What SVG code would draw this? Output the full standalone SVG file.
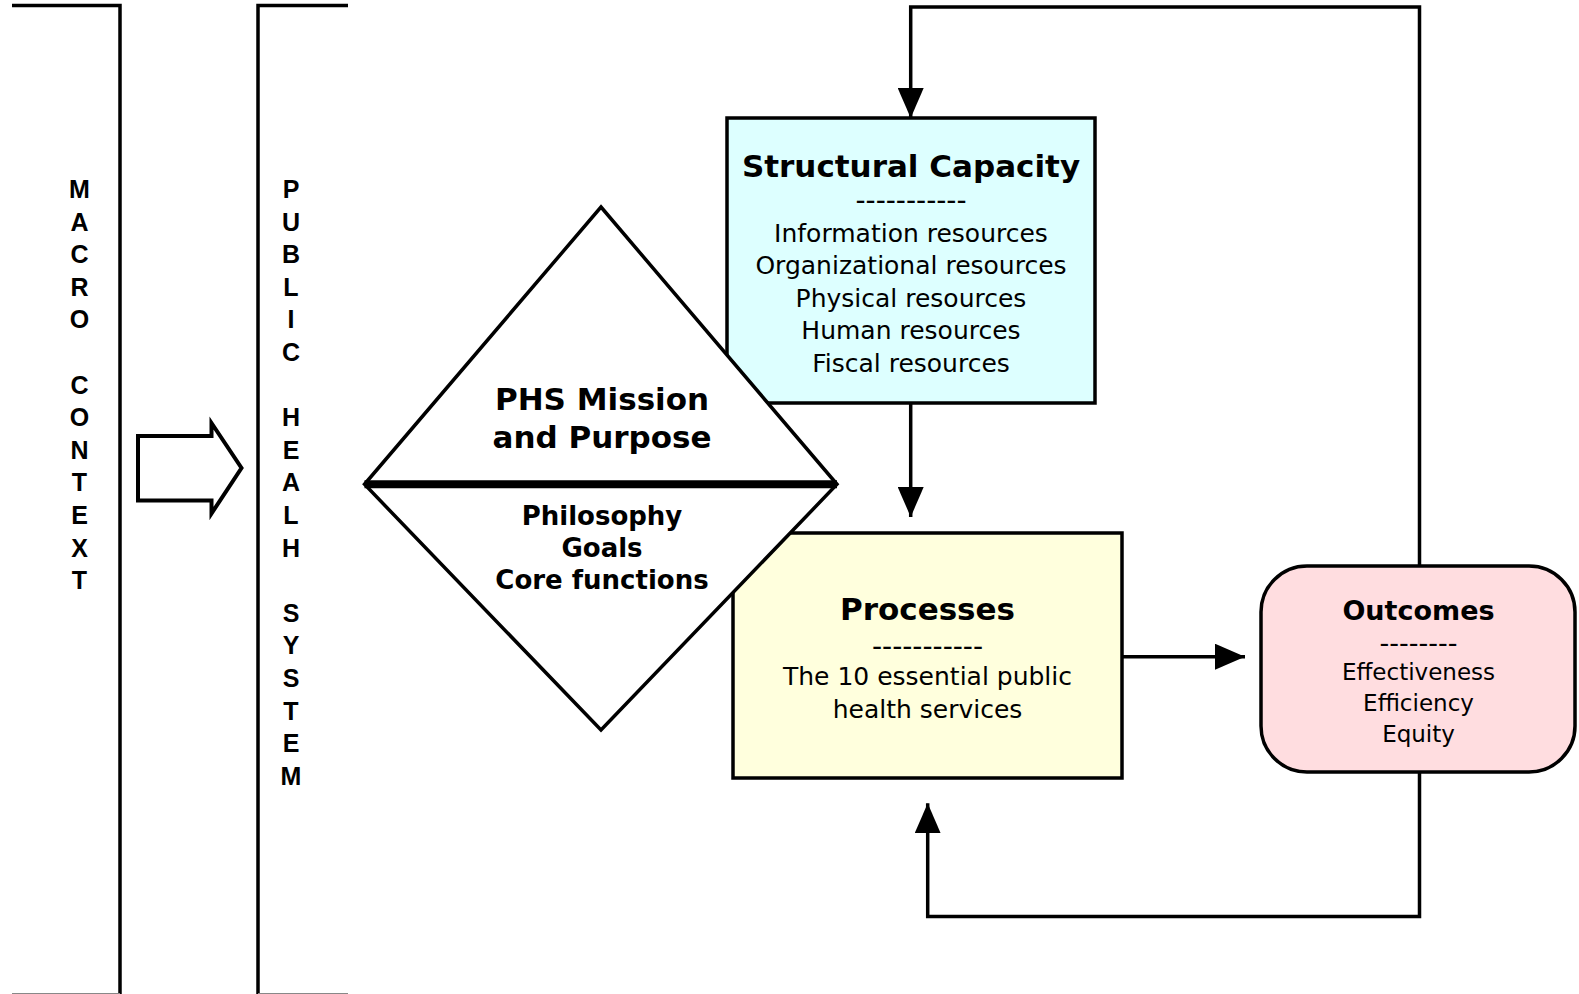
<svg xmlns="http://www.w3.org/2000/svg" width="1579" height="994" viewBox="0 0 1579 994">
<defs>
<style>
.ln{fill:none;stroke:#000;stroke-width:3.5}
.box{stroke:#000;stroke-width:3.5}
.vt{font-family:"Liberation Sans",Arial,sans-serif;font-weight:bold;font-size:25px;text-anchor:middle;fill:#000}
.tt{font-family:"DejaVu Sans",Verdana,sans-serif;font-weight:bold;text-anchor:middle;fill:#000}
.bt{font-family:"DejaVu Sans",Verdana,sans-serif;text-anchor:middle;fill:#000}
</style>
<marker id="ah" markerWidth="30" markerHeight="26" refX="30" refY="13" orient="auto" markerUnits="userSpaceOnUse">
<path d="M0,0 L30,13 L0,26 Z" fill="#000"/>
</marker>
</defs>
<rect width="1579" height="994" fill="#fff"/>

<g id="macro-context">
<path class="ln" d="M12,5.5 H120 V994"/>
<line x1="12" y1="993.5" x2="120" y2="993.5" stroke="#888" stroke-width="1"/>
<text class="vt" x="79.5" y="198">M</text>
<text class="vt" x="79.5" y="230.6">A</text>
<text class="vt" x="79.5" y="263.2">C</text>
<text class="vt" x="79.5" y="295.8">R</text>
<text class="vt" x="79.5" y="328.4">O</text>
<text class="vt" x="79.5" y="393.6">C</text>
<text class="vt" x="79.5" y="426.2">O</text>
<text class="vt" x="79.5" y="458.8">N</text>
<text class="vt" x="79.5" y="491.4">T</text>
<text class="vt" x="79.5" y="524">E</text>
<text class="vt" x="79.5" y="556.6">X</text>
<text class="vt" x="79.5" y="589.2">T</text>
</g>

<g id="public-health-system">
<path class="ln" d="M348,5.5 H258 V994"/>
<line x1="258" y1="993.5" x2="348" y2="993.5" stroke="#888" stroke-width="1"/>
<text class="vt" x="291" y="198">P</text>
<text class="vt" x="291" y="230.6">U</text>
<text class="vt" x="291" y="263.2">B</text>
<text class="vt" x="291" y="295.8">L</text>
<text class="vt" x="291" y="328.4">I</text>
<text class="vt" x="291" y="361">C</text>
<text class="vt" x="291" y="426.2">H</text>
<text class="vt" x="291" y="458.8">E</text>
<text class="vt" x="291" y="491.4">A</text>
<text class="vt" x="291" y="524">L</text>
<text class="vt" x="291" y="556.6">H</text>
<text class="vt" x="291" y="621.8">S</text>
<text class="vt" x="291" y="654.4">Y</text>
<text class="vt" x="291" y="687">S</text>
<text class="vt" x="291" y="719.6">T</text>
<text class="vt" x="291" y="752.2">E</text>
<text class="vt" x="291" y="784.8">M</text>
</g>

<g id="block-arrow">
<path d="M138,436 H211.5 V423 L241.5,468 L211.5,513.5 V500.5 H138 Z" fill="#fff" stroke="#000" stroke-width="4"/>
</g>

<g id="structural-capacity">
<rect class="box" x="727" y="118" width="368" height="285" fill="#DDFFFF"/>
<text class="tt" x="911" y="177" font-size="31">Structural Capacity</text>
<text class="bt" x="911" y="210" font-size="28">-----------</text>
<text class="bt" x="911" y="241.5" font-size="25">Information resources</text>
<text class="bt" x="911" y="274.1" font-size="25">Organizational resources</text>
<text class="bt" x="911" y="306.7" font-size="25">Physical resources</text>
<text class="bt" x="911" y="339.3" font-size="25">Human resources</text>
<text class="bt" x="911" y="371.9" font-size="25">Fiscal resources</text>
</g>

<g id="processes">
<rect class="box" x="733" y="533" width="389" height="245" fill="#FFFFDD"/>
<text class="tt" x="927.5" y="620" font-size="31">Processes</text>
<text class="bt" x="927.5" y="656" font-size="28">-----------</text>
<text class="bt" x="927.5" y="685" font-size="25">The 10 essential public</text>
<text class="bt" x="927.5" y="718" font-size="25">health services</text>
</g>

<g id="phs-mission">
<path d="M601,207 L837,484.3 L601,730 L364.5,484.3 Z" fill="#fff" stroke="#000" stroke-width="3.5" stroke-linejoin="miter"/>
<line x1="364.5" y1="484.3" x2="837" y2="484.3" stroke="#000" stroke-width="8"/>
<text class="tt" x="602" y="410" font-size="31">PHS Mission</text>
<text class="tt" x="602" y="448" font-size="31">and Purpose</text>
<text class="tt" x="602" y="525" font-size="26">Philosophy</text>
<text class="tt" x="602" y="557" font-size="26">Goals</text>
<text class="tt" x="602" y="589" font-size="26">Core functions</text>
</g>

<g id="outcomes">
<rect class="box" x="1261" y="566" width="314" height="206" rx="46" ry="46" fill="#FFDDE0"/>
<text class="tt" x="1418.5" y="620" font-size="27">Outcomes</text>
<text class="bt" x="1418.5" y="652" font-size="27">--------</text>
<text class="bt" x="1418.5" y="680" font-size="23">Effectiveness</text>
<text class="bt" x="1418.5" y="711" font-size="23">Efficiency</text>
<text class="bt" x="1418.5" y="741.5" font-size="23">Equity</text>
</g>

<g id="connectors">
<path class="ln" d="M1419.5,566 V7 H910.7 V118" marker-end="url(#ah)"/>
<path class="ln" d="M910.7,403 V517" marker-end="url(#ah)"/>
<path class="ln" d="M1122,656.7 H1245" marker-end="url(#ah)"/>
<path class="ln" d="M1419.5,772 V916.5 H927.7 V803.3" marker-end="url(#ah)"/>
</g>
</svg>
